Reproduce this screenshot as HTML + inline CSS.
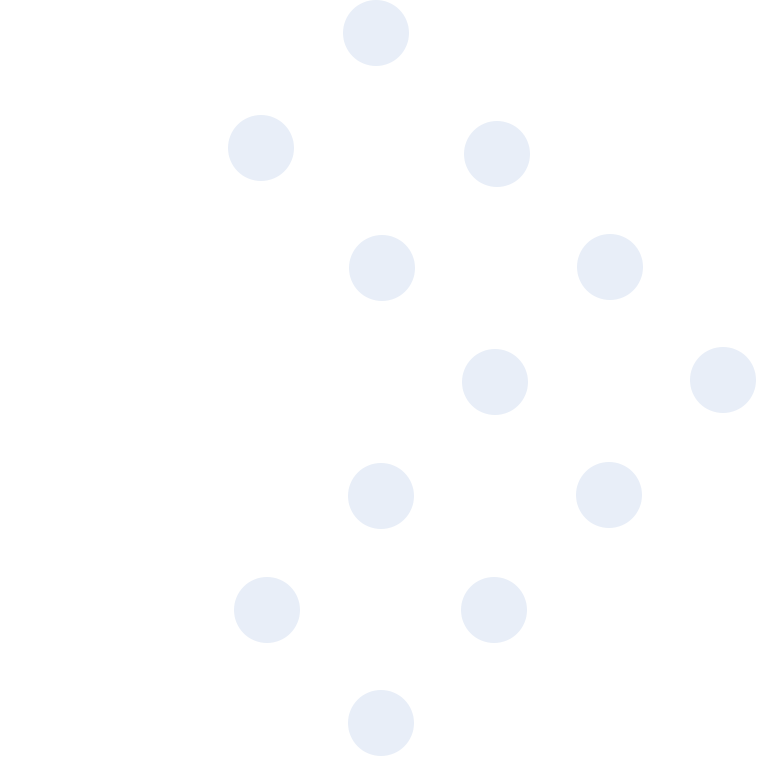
<!DOCTYPE html>
<html><head><meta charset="utf-8"><style>html,body{margin:0;padding:0;background:#fff;width:758px;height:758px;overflow:hidden}</style></head>
<body>
<svg width="758" height="758" viewBox="0 0 758 758" xmlns="http://www.w3.org/2000/svg">
<g fill="#e8eef8">
<circle cx="376" cy="33" r="33"/>
<circle cx="261" cy="148" r="33"/>
<circle cx="497" cy="154" r="33"/>
<circle cx="382" cy="268" r="33"/>
<circle cx="610" cy="267" r="33"/>
<circle cx="495" cy="382" r="33"/>
<circle cx="723" cy="380" r="33"/>
<circle cx="381" cy="496" r="33"/>
<circle cx="609" cy="495" r="33"/>
<circle cx="267" cy="610" r="33"/>
<circle cx="494" cy="610" r="33"/>
<circle cx="381" cy="723" r="33"/>
</g>
</svg>
</body></html>
